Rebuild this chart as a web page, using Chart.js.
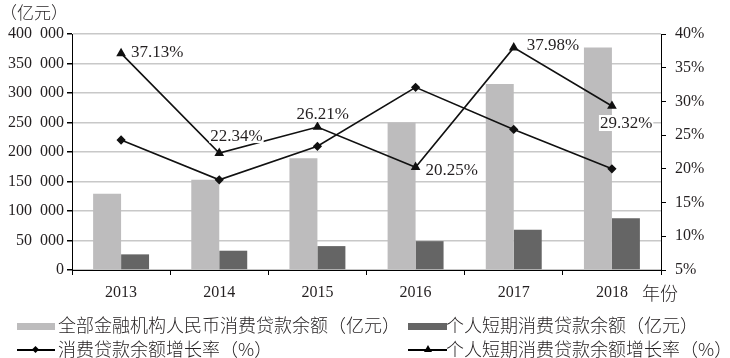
<!DOCTYPE html>
<html lang="zh-CN">
<head>
<meta charset="utf-8">
<script src="https://cdn.jsdelivr.net/npm/chart.js@4.4.1/dist/chart.umd.min.js"></script>
<style>
  body { margin: 0; background: #fff; }
  #wrap { position: relative; width: 730px; height: 358px; overflow: hidden; }
  #chart { position: absolute; left: 0; top: 0; }
  .cjk { position: absolute; font-family: "Noto Sans CJK SC", sans-serif; font-size: 18px; color: #231f20; line-height: 18px; white-space: nowrap; font-weight: 300; }
  .sym { position: absolute; }
</style>
</head>
<body>
<div id="wrap">
  <canvas id="chart" width="730" height="358"></canvas>
  <div class="cjk" style="left:0px; top:3px; font-size:17px;">（亿元）</div>
  <div class="cjk" style="left:642px; top:283px;">年份</div>

  <div class="sym" style="left:17px; top:323px; width:38px; height:7px; background:#bdbcbd;"></div>
  <div class="cjk" id="lg0" style="left:58px; top:315px;"></div>
  <div class="sym" style="left:408px; top:323px; width:39px; height:7px; background:#656565;"></div>
  <div class="cjk" id="lg1" style="left:446px; top:315px;"></div>

  <div class="sym" style="left:17px; top:349px; width:38px; height:1.5px; background:#000;"></div>
  <div class="sym" style="left:33px; top:347px; width:5px; height:5px; background:#000; transform:rotate(45deg);"></div>
  <div class="cjk" id="lg2" style="left:58px; top:338.5px;"></div>
  <div class="sym" style="left:408px; top:349px; width:39px; height:1.5px; background:#000;"></div>
  <div class="sym" style="left:424px; top:345px; width:0; height:0; border-left:4px solid transparent; border-right:4px solid transparent; border-bottom:7px solid #000;"></div>
  <div class="cjk" id="lg3" style="left:446px; top:338.5px;"></div>
</div>
<script>
const years = ['2013', '2014', '2015', '2016', '2017', '2018'];
const seriesNames = [
  '全部金融机构人民币消费贷款余额（亿元）',
  '个人短期消费贷款余额（亿元）',
  '消费贷款余额增长率（%）',
  '个人短期消费贷款余额增长率（%）'
];
const totalLoans = [129300, 152900, 189500, 250100, 315200, 377100];
const shortLoans = [26500, 32700, 40500, 48900, 68100, 87600];
const totalGrowth = [24.28, 18.38, 23.35, 32.09, 25.85, 20.00];
const shortGrowth = [37.13, 22.34, 26.21, 20.25, 37.98, 29.32];

for (let i = 0; i < seriesNames.length; i++)
{
    document.getElementById('lg' + i).textContent = seriesNames[i];
}

const numFont = { family: '"Liberation Serif", "Times New Roman", serif', size: 16 };
const textColor = '#231f20';

// label offsets from each triangle point: [dx to text left, dy to text middle]
const labelOffsets = [[10, -2], [-9, -18], [-21, -13], [10, 2], [13, -3], [-12, 17]];

const pointLabels = {
    id: 'pointLabels',
    afterDatasetsDraw(chart) {
        const ctx = chart.ctx;
        const meta = chart.getDatasetMeta(3);
        ctx.save();
        ctx.font = '17px "Liberation Serif", serif';
        ctx.textBaseline = 'middle';
        ctx.textAlign = 'left';
        meta.data.forEach((pt, i) => {
            const txt = shortGrowth[i].toFixed(2) + '%';
            const x = pt.x + labelOffsets[i][0];
            const y = pt.y + labelOffsets[i][1];
            const w = ctx.measureText(txt).width;
            ctx.fillStyle = '#fff';
            ctx.fillRect(x - 1, y - 8, w + 2, 16);
            ctx.fillStyle = textColor;
            ctx.fillText(txt, x, y + 1);
        });
        ctx.restore();
    }
};

function fmtThousands(v)
{
    const s = String(v);
    if (v < 1000) return s;
    return s.slice(0, s.length - 3) + '\u2007' + s.slice(s.length - 3);
}

new Chart(document.getElementById('chart').getContext('2d'), {
    data: {
        labels: years,
        datasets: [
            {
                type: 'bar', label: seriesNames[0], data: totalLoans, yAxisID: 'y',
                backgroundColor: '#bdbcbd', categoryPercentage: 0.57, barPercentage: 1, order: 2
            },
            {
                type: 'bar', label: seriesNames[1], data: shortLoans, yAxisID: 'y',
                backgroundColor: '#656565', categoryPercentage: 0.57, barPercentage: 1, order: 2
            },
            {
                type: 'line', label: seriesNames[2], data: totalGrowth, yAxisID: 'y1',
                borderColor: '#111', borderWidth: 1.6, pointStyle: 'rectRot', pointRadius: 3.5,
                pointBackgroundColor: '#111', pointBorderColor: '#111', order: 1
            },
            {
                type: 'line', label: seriesNames[3], data: shortGrowth, yAxisID: 'y1',
                borderColor: '#111', borderWidth: 1.6, pointStyle: 'triangle', pointRadius: 4,
                pointBackgroundColor: '#111', pointBorderColor: '#111', order: 1
            }
        ]
    },
    options: {
        responsive: false,
        animation: false,
        layout: { padding: { top: 34, left: 0, right: 0, bottom: 0 } },
        plugins: { legend: { display: false }, tooltip: { enabled: false } },
        scales: {
            x: {
                grid: { offset: true, drawOnChartArea: false, tickLength: 5, tickColor: '#000' },
                border: { color: '#000', width: 1 },
                ticks: { font: numFont, color: textColor, padding: 8 },
                afterFit(scale) { scale.height = 88; }
            },
            y: {
                position: 'left', min: 0, max: 400000,
                grid: { color: '#c8c8c8', lineWidth: 1.5, tickLength: 5, tickColor: '#000' },
                border: { color: '#000', width: 1 },
                ticks: { stepSize: 50000, font: numFont, color: textColor, padding: 3, callback: v => fmtThousands(v) },
                afterFit(scale) { scale.width = 72; }
            },
            y1: {
                position: 'right', min: 5, max: 40,
                grid: { drawOnChartArea: false, tickLength: 5, tickColor: '#000' },
                border: { color: '#000', width: 1 },
                ticks: { stepSize: 5, font: numFont, color: textColor, padding: 9, callback: v => v + '%' },
                afterFit(scale) { scale.width = 69; }
            }
        }
    },
    plugins: [pointLabels]
});
</script>
</body>
</html>
